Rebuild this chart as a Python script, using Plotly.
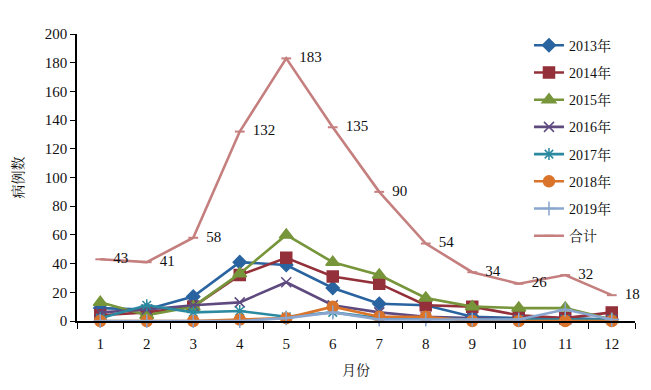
import plotly.graph_objects as go

months = [str(i) for i in range(1, 13)]
tick_labels = months
y2013 = [9, 8, 17, 41, 39, 23, 12, 11, 3, 2, 2, 1]
y2014 = [4, 6, 10, 32, 44, 31, 26, 11, 10, 4, 2, 6]
y2015 = [13, 4, 10, 33, 60, 41, 32, 16, 10, 9, 9, 1]
y2016 = [6, 8, 11, 13, 27, 11, 6, 3, 2, 1, 1, 1]
y2017 = [2, 11, 6, 7, 3, 6, 2, 2, 1, 1, 1, 1]
y2018 = [0, 0, 0, 1, 2, 10, 3, 3, 0, 0, 0, 0]
y2019 = [0, 0, 0, 0, 2, 6, 1, 1, 1, 1, 8, 1]
total = [43, 41, 58, 132, 183, 135, 90, 54, 34, 26, 32, 18]

series = [
    ("2013年", y2013, "#2a64a0", "diamond", 10),
    ("2014年", y2014, "#93303a", "square", 11),
    ("2015年", y2015, "#77953a", "triangle-up", 12),
    ("2016年", y2016, "#5f4a80", "x-thin-open", 10),
    ("2017年", y2017, "#2b8aa0", "asterisk-open", 10),
    ("2018年", y2018, "#d9742a", "circle", 11),
    ("2019年", y2019, "#8aa6cf", "cross-thin-open", 10),
]

fig = go.Figure()
for name, vals, color, sym, size in series:
    fig.add_trace(go.Scatter(
        x=months, y=vals, name=name, legendgroup=name, mode="lines+markers",
        line=dict(color=color, width=2.6), cliponaxis=False,
        marker=dict(symbol=sym, size=size, color=color,
                    line=dict(color=color, width=1.5)),
    ))

fig.add_trace(go.Scatter(
    x=months, y=total, name="合计", legendgroup="合计", mode="lines+markers+text",
    line=dict(color="#c47f7e", width=2.6), cliponaxis=False,
    marker=dict(symbol="line-ew-open", size=7, color="#c47f7e",
                line=dict(color="#c47f7e", width=2)),
    text=["  " + str(v) for v in total], textposition="middle right",
    textfont=dict(family="Liberation Serif, Noto Sans CJK SC", size=15, color="#111"),
))

font_fam = "Liberation Serif, Noto Serif CJK SC, Noto Sans CJK SC, serif"
fig.update_layout(
    width=651, height=390,
    margin=dict(l=69, r=24, t=26, b=77, autoexpand=False),
    plot_bgcolor="white", paper_bgcolor="white",
    font=dict(family=font_fam, size=14, color="#111"),
    showlegend=True,
    legend=dict(x=0.81, y=1.015, xanchor="left", yanchor="top",
                font=dict(size=14, family=font_fam), tracegroupgap=6,
                itemwidth=30, bgcolor="rgba(0,0,0,0)", maxheight=340),
    xaxis=dict(type="category", tickson="boundaries", ticks="outside",
               range=[-0.5, 11.5], autorange=False,
               ticklen=6, tickcolor="black", showline=True, linecolor="black",
               linewidth=1.5, showgrid=False, tickvals=months, ticktext=tick_labels,
               automargin=False, ticklabelstandoff=8,
               title=dict(text="月份", font=dict(size=14), standoff=14),
               tickfont=dict(size=15)),
    yaxis=dict(range=[0, 200], dtick=20, ticks="outside", ticklen=5,
               tickcolor="black", showline=True, linecolor="black", linewidth=1.5,
               showgrid=False, zeroline=False, automargin=False,
               title=dict(text="病例数", font=dict(size=14), standoff=18),
               tickfont=dict(size=15)),
)

fig.write_html("out.html")
